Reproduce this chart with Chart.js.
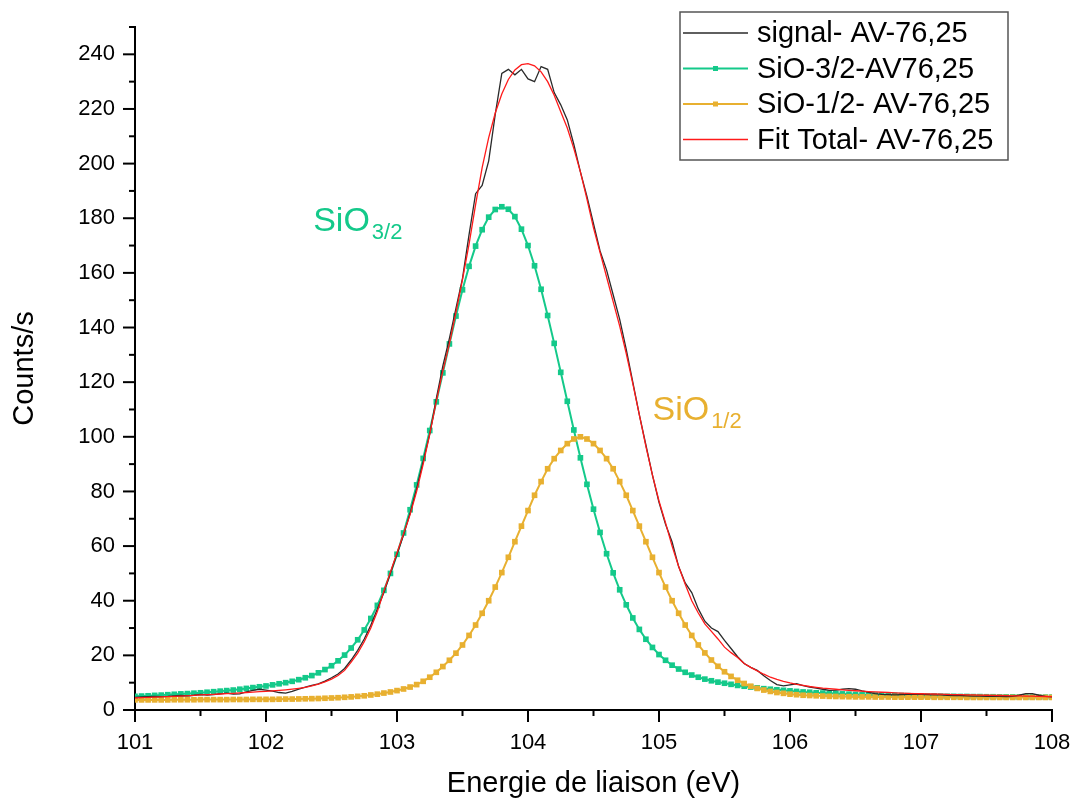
<!DOCTYPE html>
<html>
<head>
<meta charset="utf-8">
<script src="https://cdn.jsdelivr.net/npm/chart.js@4.4.1/dist/chart.umd.min.js"></script>
<style>
  html, body { margin: 0; padding: 0; background: #fff; }
</style>
</head>
<body>
<canvas id="myChart" width="1075" height="801"></canvas>
<script>
const FONT = "'Liberation Sans', Arial, sans-serif";

// binding energy grid (eV)
const energies = [
  101.00,101.05,101.10,101.15,101.20,101.25,101.30,101.35,101.40,101.45,
  101.50,101.55,101.60,101.65,101.70,101.75,101.80,101.85,101.90,101.95,
  102.00,102.05,102.10,102.15,102.20,102.25,102.30,102.35,102.40,102.45,
  102.50,102.55,102.60,102.65,102.70,102.75,102.80,102.85,102.90,102.95,
  103.00,103.05,103.10,103.15,103.20,103.25,103.30,103.35,103.40,103.45,
  103.50,103.55,103.60,103.65,103.70,103.75,103.80,103.85,103.90,103.95,
  104.00,104.05,104.10,104.15,104.20,104.25,104.30,104.35,104.40,104.45,
  104.50,104.55,104.60,104.65,104.70,104.75,104.80,104.85,104.90,104.95,
  105.00,105.05,105.10,105.15,105.20,105.25,105.30,105.35,105.40,105.45,
  105.50,105.55,105.60,105.65,105.70,105.75,105.80,105.85,105.90,105.95,
  106.00,106.05,106.10,106.15,106.20,106.25,106.30,106.35,106.40,106.45,
  106.50,106.55,106.60,106.65,106.70,106.75,106.80,106.85,106.90,106.95,
  107.00,107.05,107.10,107.15,107.20,107.25,107.30,107.35,107.40,107.45,
  107.50,107.55,107.60,107.65,107.70,107.75,107.80,107.85,107.90,107.95,
  108.00
];

const signal = [
  4.6,4.8,4.9,5.0,4.9,5.0,5.2,5.3,5.2,5.4,
  5.7,5.5,5.6,5.9,6.2,5.8,5.9,6.6,7.2,7.6,
  7.3,6.9,6.4,6.2,6.8,7.6,8.4,9.0,9.6,10.6,
  11.8,13.2,15.2,18.3,21.8,26.0,31.0,37.0,43.0,50.0,
  57.0,64.0,72.0,81.0,91.0,101.0,114.0,126.0,136.0,147.0,
  158.0,174.0,189.0,192.0,201.0,218.0,233.0,234.5,232.5,234.5,
  231.0,230.0,235.5,234.5,226.0,221.5,216.0,207.0,197.0,188.0,
  178.0,168.0,161.0,152.0,143.0,132.0,120.0,108.0,97.0,86.0,
  76.0,68.0,61.5,52.5,46.5,43.0,37.0,32.5,30.0,28.7,
  25.5,22.5,19.5,17.0,15.6,14.5,12.5,10.8,9.3,8.8,
  9.2,9.6,8.9,8.4,8.0,7.6,7.2,7.3,7.6,7.8,
  7.6,7.0,6.5,6.0,5.7,5.6,5.5,5.6,5.7,5.8,
  5.7,5.6,5.5,5.5,5.4,5.3,5.3,5.2,5.1,5.1,
  5.0,5.0,5.0,4.9,5.0,5.4,6.0,6.0,5.4,5.0,
  4.8
];

const sio32 = [
  5.0,5.1,5.2,5.35,5.45,5.6,5.75,5.9,6.0,6.15,
  6.3,6.5,6.7,6.9,7.1,7.3,7.6,7.9,8.2,8.5,
  8.8,9.2,9.6,10.0,10.5,11.1,11.8,12.6,13.6,14.8,
  16.2,18.0,20.1,22.7,25.7,29.3,33.5,38.3,43.8,50.0,
  57.0,64.8,73.3,82.4,92.1,102.3,112.8,123.4,134.0,144.2,
  153.8,162.4,169.8,175.8,180.4,183.2,184.2,183.3,180.6,176.0,
  170.0,162.6,154.0,144.4,134.2,123.6,113.0,102.5,92.3,82.6,
  73.5,65.0,57.2,50.2,44.0,38.5,33.7,29.5,25.9,22.9,
  20.3,18.2,16.4,15.0,13.8,12.8,12.0,11.3,10.7,10.2,
  9.8,9.4,9.0,8.7,8.4,8.1,7.8,7.6,7.4,7.2,
  7.0,6.8,6.6,6.5,6.3,6.2,6.1,6.0,5.9,5.8,
  5.7,5.6,5.55,5.5,5.45,5.4,5.35,5.3,5.25,5.2,
  5.15,5.1,5.1,5.05,5.0,5.0,4.95,4.95,4.9,4.9,
  4.85,4.85,4.8,4.8,4.8,4.75,4.75,4.75,4.7,4.7,
  4.7
];

const sio12 = [
  3.7,3.7,3.7,3.7,3.7,3.7,3.75,3.75,3.75,3.75,
  3.8,3.8,3.8,3.8,3.8,3.85,3.85,3.85,3.9,3.9,
  3.9,3.9,3.95,4.0,4.0,4.05,4.1,4.15,4.2,4.3,
  4.4,4.5,4.65,4.8,5.0,5.2,5.5,5.8,6.2,6.6,
  7.1,7.7,8.4,9.3,10.5,12.0,13.8,15.9,18.2,20.8,
  23.8,27.3,31.1,35.4,40.0,45.0,50.3,55.9,61.6,67.3,
  73.0,78.6,83.6,88.3,92.0,95.0,97.5,99.2,100.0,99.2,
  97.5,95.0,92.0,88.3,83.6,78.6,73.0,67.3,61.6,55.9,
  50.3,45.0,40.0,35.4,31.1,27.3,23.8,20.9,18.3,16.0,
  14.0,12.3,10.9,9.7,8.7,7.9,7.3,6.8,6.4,6.1,
  5.8,5.6,5.4,5.3,5.2,5.1,5.0,4.95,4.9,4.85,
  4.8,4.8,4.8,4.75,4.75,4.75,4.7,4.7,4.7,4.7,
  4.7,4.7,4.65,4.65,4.65,4.65,4.65,4.6,4.6,4.6,
  4.6,4.6,4.6,4.6,4.6,4.6,4.6,4.6,4.6,4.6,
  4.6
];

const fitTotal = [
  4.4,4.5,4.6,4.7,4.8,4.9,5.0,5.1,5.2,5.35,
  5.5,5.6,5.7,5.85,6.0,6.1,6.25,6.4,6.55,6.7,
  6.85,7.0,7.2,7.4,7.65,7.95,8.3,8.8,9.5,10.3,
  11.3,12.6,14.5,17.5,20.8,25.0,30.0,36.0,43.5,50.5,
  57.5,64.5,71.5,80.0,90.0,101.0,113.0,124.0,134.0,145.5,
  157.5,170.5,185.0,198.5,209.5,218.5,225.5,230.8,234.3,236.2,
  236.6,235.8,233.6,230.0,225.0,219.0,213.0,205.5,197.0,187.0,
  176.5,167.5,158.5,149.5,140.5,130.5,119.5,108.0,96.5,86.0,
  76.5,68.5,60.0,52.5,46.0,40.0,35.5,31.5,28.8,26.0,
  23.0,21.0,19.2,17.0,15.6,14.3,13.1,12.0,11.2,10.5,
  9.9,9.4,9.0,8.6,8.3,8.0,7.8,7.6,7.4,7.2,
  7.05,6.9,6.75,6.6,6.5,6.4,6.3,6.2,6.1,6.0,
  5.95,5.9,5.85,5.8,5.7,5.65,5.6,5.55,5.5,5.45,
  5.4,5.35,5.3,5.25,5.2,5.15,5.1,5.05,5.0,4.95,
  4.9
];

const seriesNames = ["signal- AV-76,25", "SiO-3/2-AV76,25", "SiO-1/2- AV-76,25", "Fit Total- AV-76,25"];
const colors = ["#2a2a2a", "#14c98a", "#e8b030", "#ff1a1a"];

// peak labels: [main, subscript, x (eV), y (counts), colour]
const peakLabels = [
  ["SiO", "3/2", 102.36, 175.5, colors[1]],
  ["SiO", "1/2", 104.95, 106, colors[2]]
];

const pts = (ys) => energies.map((e, i) => ({ x: e, y: ys[i] }));

const extras = {
  id: "extras",
  afterDraw(chart) {
    const ctx = chart.ctx;
    const xs = chart.scales.x, ys = chart.scales.y;
    const area = chart.chartArea;
    ctx.save();
    ctx.strokeStyle = "#000";
    ctx.lineWidth = 2;
    // tick marks, major and minor
    for (let v = 0; v <= 250; v += 10) {
      const py = ys.getPixelForValue(v);
      const len = v % 20 === 0 ? 12 : 6;
      ctx.beginPath();
      ctx.moveTo(area.left - len, py);
      ctx.lineTo(area.left, py);
      ctx.stroke();
    }
    for (let k = 0; k <= 14; k++) {
      const px = xs.getPixelForValue(101 + k * 0.5);
      const len = k % 2 === 0 ? 12 : 6;
      ctx.beginPath();
      ctx.moveTo(px, area.bottom);
      ctx.lineTo(px, area.bottom + len);
      ctx.stroke();
    }

    // peak labels
    peakLabels.forEach(([main, sub, ex, cy, col]) => {
      const px = xs.getPixelForValue(ex);
      const py = ys.getPixelForValue(cy);
      ctx.fillStyle = col;
      ctx.textBaseline = "alphabetic";
      ctx.textAlign = "left";
      ctx.font = "34px " + FONT;
      ctx.fillText(main, px, py);
      const w = ctx.measureText(main).width;
      ctx.font = "22px " + FONT;
      ctx.fillText(sub, px + w + 2, py + 8);
    });

    // legend box
    const L = { left: 680, top: 12, width: 328, height: 148 };
    ctx.lineWidth = 1.5;
    ctx.strokeStyle = "#555";
    ctx.strokeRect(L.left, L.top, L.width, L.height);
    ctx.font = "29px " + FONT;
    ctx.textBaseline = "middle";
    chart.data.datasets.forEach((ds, i) => {
      const cy = L.top + 21 + i * 35.5;
      ctx.strokeStyle = ds.borderColor;
      ctx.lineWidth = ds.borderWidth;
      ctx.beginPath();
      ctx.moveTo(L.left + 3, cy);
      ctx.lineTo(L.left + 68, cy);
      ctx.stroke();
      if (ds.pointRadius > 0) {
        ctx.fillStyle = ds.borderColor;
        ctx.fillRect(L.left + 33, cy - 2.5, 5, 5);
      }
      ctx.fillStyle = "#000";
      ctx.fillText(ds.label, L.left + 77, cy + 1);
    });
    ctx.restore();
  }
};

const chart = document.getElementById("myChart");

const config = {
  type: "scatter",
  data: {
    datasets: [
      {
        label: seriesNames[0],
        data: pts(signal),
        showLine: true,
        borderColor: colors[0],
        borderWidth: 1.3,
        pointRadius: 0,
        order: 1,
      },
      {
        label: seriesNames[1],
        data: pts(sio32),
        showLine: true,
        borderColor: colors[1],
        backgroundColor: colors[1],
        borderWidth: 2,
        pointStyle: "rect",
        pointRadius: 4,
        pointBorderWidth: 0,
        order: 3,
      },
      {
        label: seriesNames[2],
        data: pts(sio12),
        showLine: true,
        borderColor: colors[2],
        backgroundColor: colors[2],
        borderWidth: 2,
        pointStyle: "rect",
        pointRadius: 4,
        pointBorderWidth: 0,
        order: 2,
      },
      {
        label: seriesNames[3],
        data: pts(fitTotal),
        showLine: true,
        borderColor: colors[3],
        borderWidth: 1.3,
        pointRadius: 0,
        order: 0,
      },
    ],
  },
  options: {
    responsive: false,
    animation: false,
    layout: { padding: { left: 0, right: 23, top: 27, bottom: 0 } },
    plugins: {
      legend: { display: false },
      tooltip: { enabled: false },
    },
    scales: {
      x: {
        type: "linear",
        min: 101,
        max: 108,
        afterFit: (s) => { s.height = 91; s.paddingLeft = 0; s.paddingRight = 0; },
        grid: { display: false, drawTicks: false },
        border: { display: true, color: "#000", width: 2 },
        ticks: {
          stepSize: 1,
          padding: 20,
          color: "#000",
          font: { family: FONT, size: 22 },
        },
        title: {
          display: true,
          text: "Energie de liaison (eV)",
          color: "#000",
          font: { family: FONT, size: 29 },
          padding: { top: 0, bottom: 0 },
        },
      },
      y: {
        min: 0,
        max: 250,
        afterFit: (s) => { s.width = 135; s.paddingTop = 0; s.paddingBottom = 0; },
        grid: { display: false, drawTicks: false },
        border: { display: true, color: "#000", width: 2 },
        ticks: {
          stepSize: 20,
          includeBounds: false,
          padding: 20,
          color: "#000",
          font: { family: FONT, size: 22 },
        },
        title: {
          display: true,
          text: "Counts/s",
          color: "#000",
          font: { family: FONT, size: 29 },
          padding: { top: 8, bottom: 0 },
        },
      },
    },
  },
  plugins: [extras],
};

const chart01 = new Chart(chart, config);
</script>
</body>
</html>
